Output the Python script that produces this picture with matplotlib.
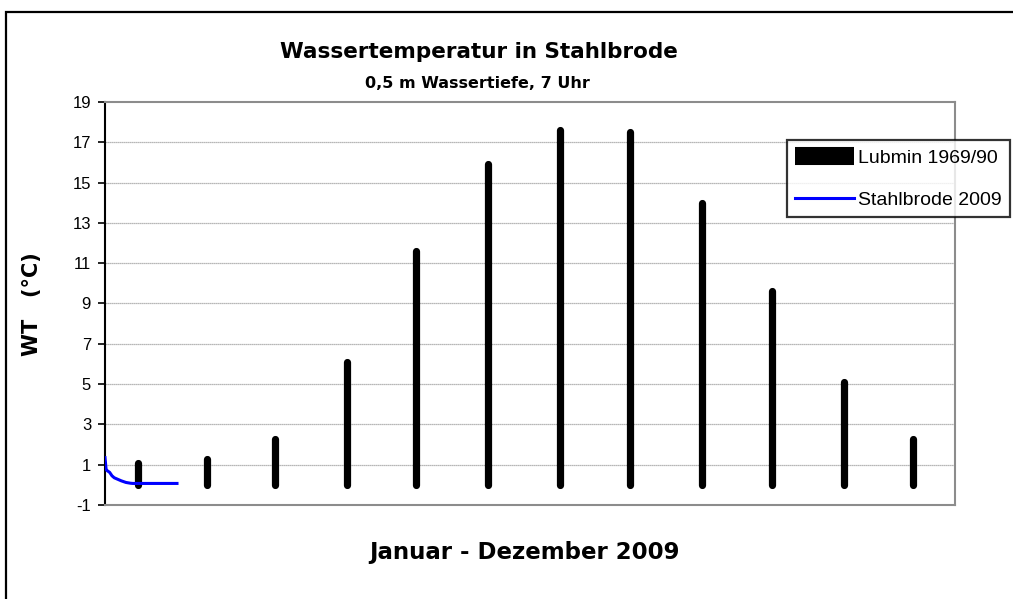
import matplotlib
matplotlib.use("Agg")
import matplotlib.pyplot as plt
from matplotlib.lines import Line2D
from matplotlib.patches import Rectangle

plt.rcParams['font.family'] = ['Liberation Sans', 'DejaVu Sans']
plt.rcParams['axes.unicode_minus'] = False

# ---- data ----
month_days = [14, 44, 73, 104, 134, 165, 196, 226, 257, 287, 318, 348]
lubmin_values = [1.1, 1.3, 2.3, 6.1, 11.6, 15.9, 17.6, 17.5, 14.0, 9.6, 5.1, 2.3]

stahlbrode_days = [0, 0.5, 1, 2, 3, 4, 5, 6, 7, 8, 9, 10, 11, 12, 14, 16, 18, 20, 22, 24, 26, 28, 30, 31]
stahlbrode_values = [1.35, 0.75, 0.7, 0.62, 0.45, 0.35, 0.3, 0.25, 0.2, 0.16, 0.12, 0.1, 0.08, 0.07,
                     0.07, 0.07, 0.07, 0.07, 0.07, 0.07, 0.07, 0.07, 0.07, 0.07]

y_ticks = [-1, 1, 3, 5, 7, 9, 11, 13, 15, 17, 19]

title = "Wassertemperatur in Stahlbrode"
subtitle = "0,5 m Wassertiefe, 7 Uhr"
xlabel = "Januar - Dezember 2009"
ylabel = "WT   (°C)"
legend_labels = ["Lubmin 1969/90", "Stahlbrode 2009"]

W, H = 1013, 599
fig = plt.figure(figsize=(W / 100, H / 100), dpi=100)

def px(x, y):
    return x / W, 1 - y / H

# outer frame
fig.patches.append(Rectangle((6 / W, -0.2), 1.5, (1 - 12 / H) + 0.2, transform=fig.transFigure,
                             fill=False, edgecolor='black', linewidth=1.6, zorder=0))

left, right, top, bottom = 105, 955, 102, 505
ax = fig.add_axes([left / W, 1 - bottom / H, (right - left) / W, (bottom - top) / H])

ax.set_xlim(0, 366)
ax.set_ylim(-1, 19)
ax.set_yticks(y_ticks)
ax.set_xticks([])
ax.tick_params(axis='y', direction='out', length=5, width=1.2, color='black',
               labelsize=12, pad=5)

for yv in y_ticks[1:-1]:
    ax.axhline(yv, color='#a0a0a0', linewidth=0.9, linestyle=(0, (1, 0.6)), zorder=1)

for s in ['top', 'right', 'bottom']:
    ax.spines[s].set_color('#8c8c8c')
    ax.spines[s].set_linewidth(1.5)
ax.spines['left'].set_color('black')
ax.spines['left'].set_linewidth(1.5)

ax.vlines(month_days, 0, lubmin_values, colors='black', linewidth=5.2, capstyle='round', zorder=3)
ax.plot(stahlbrode_days, stahlbrode_values, color='#0000ff', linewidth=2.2, zorder=4)

handles = [Line2D([0], [0], color='black', linewidth=13, solid_capstyle='butt'),
           Line2D([0], [0], color='#0000ff', linewidth=2.2)]
leg = fig.legend(handles, legend_labels, loc='upper left', bbox_to_anchor=px(787, 140),
                 bbox_transform=fig.transFigure, fontsize=14, frameon=True, fancybox=False,
                 edgecolor='black', handlelength=3.0, handletextpad=0.25, borderpad=0.42,
                 labelspacing=1.2, borderaxespad=0, handleheight=0.9)
leg.get_frame().set_linewidth(1.6)

bold = dict(fontweight='bold', family=['DejaVu Sans'])
fig.text(*px(479, 52), title, ha='center', va='center', fontsize=15.5, **bold)
fig.text(*px(477, 83), subtitle, ha='center', va='center', fontsize=11.5, **bold)
fig.text(*px(524, 553), xlabel, ha='center', va='center', fontsize=16.5, **bold)
fig.text(*px(32, 304), ylabel, ha='center', va='center', fontsize=15, rotation=90, **bold)

fig.savefig("out.png", dpi=100)
